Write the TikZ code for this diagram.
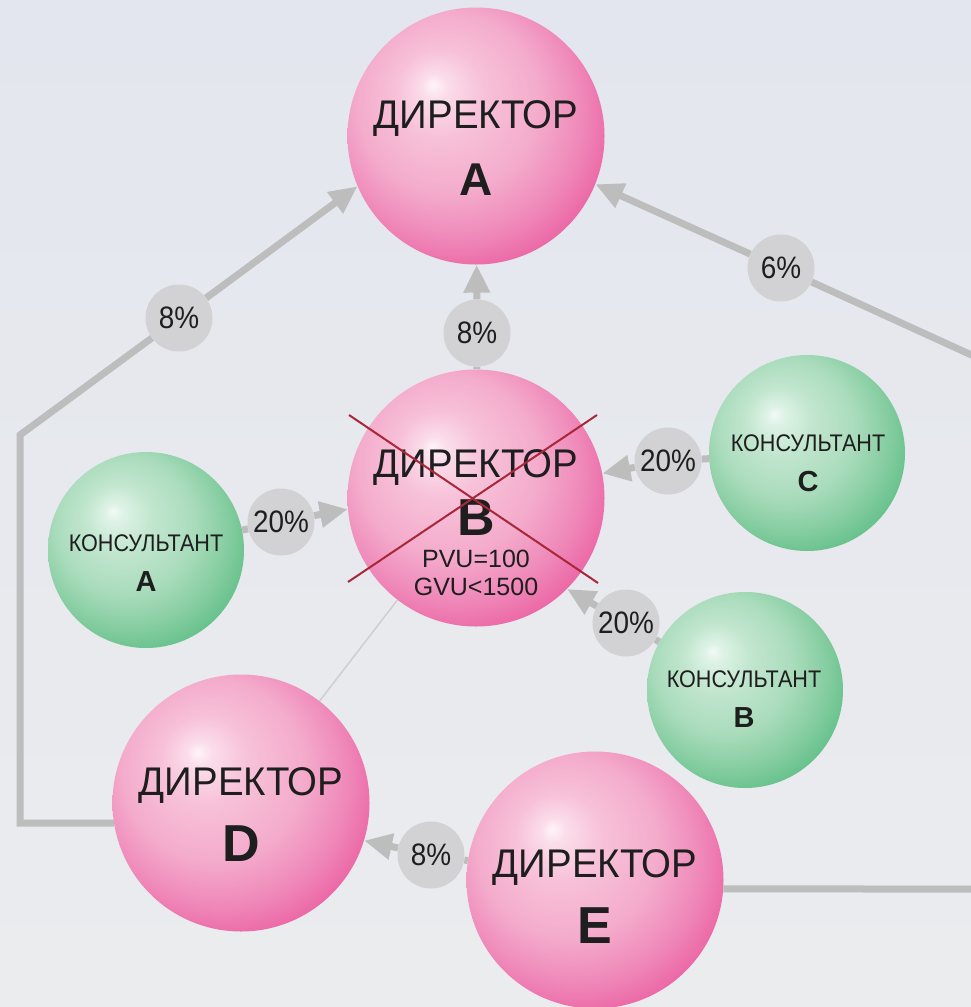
\documentclass[tikz,border=0pt]{standalone}
\usepackage{fontspec}
\setmainfont{Liberation Sans}
\usetikzlibrary{arrows.meta,calc}
\definecolor{pk0}{HTML}{FEF4F8}
\definecolor{pk1}{HTML}{FBDDEA}
\definecolor{pk2}{HTML}{F7C1D9}
\definecolor{pk3}{HTML}{F4ACCC}
\definecolor{pk4}{HTML}{EF88B9}
\definecolor{pk5}{HTML}{EB63A3}
\definecolor{gn0}{HTML}{F2FAF5}
\definecolor{gn1}{HTML}{DDF2E5}
\definecolor{gn2}{HTML}{C2E6CF}
\definecolor{gn3}{HTML}{AADCBC}
\definecolor{gn4}{HTML}{86CDA1}
\definecolor{gn5}{HTML}{62C088}
\definecolor{lnC}{HTML}{BDBDBD}
\definecolor{lbC}{HTML}{D2D2D4}
\definecolor{txC}{HTML}{1E1E1E}
\definecolor{xC}{HTML}{A8283A}
\definecolor{thinC}{HTML}{CFCFD2}
\definecolor{bgT}{HTML}{E3E6EE}
\definecolor{bgM}{HTML}{F5F5F8}
\definecolor{bgB}{HTML}{EBECEE}
\pgfdeclareradialshading{pinkball}{\pgfpoint{-8.5bp}{10bp}}{color(0bp)=(pk0); color(2.5bp)=(pk1); color(8.5bp)=(pk2); color(17.5bp)=(pk3); color(25bp)=(pk4); color(31bp)=(pk5); color(50bp)=(pk5)}
\pgfdeclareradialshading{greenball}{\pgfpoint{-8.5bp}{10bp}}{color(0bp)=(gn0); color(2.5bp)=(gn1); color(8.5bp)=(gn2); color(17.5bp)=(gn3); color(25bp)=(gn4); color(31bp)=(gn5); color(50bp)=(gn5)}
\newcommand{\cndx}[1]{\scalebox{0.9}[1]{#1}}
\newcommand{\cndd}[1]{\scalebox{0.96}[1]{#1}}
\tikzset{
  dirS/.style={circle, inner sep=0pt, minimum size=257pt, shade, shading=pinkball},
  conS/.style={circle, inner sep=0pt, minimum size=196pt, shade, shading=greenball},
  labS/.style={circle, inner sep=0pt, minimum size=67pt, fill=lbC, text=txC, font=\fontsize{31}{34}\selectfont},
  labI/.style={circle, inner sep=0pt, minimum size=67pt},
  dtxt/.style={anchor=base, inner sep=0pt, text=txC, font=\fontsize{40}{44}\selectfont},
  dlet/.style={anchor=base, inner sep=0pt, text=txC, font=\fontsize{52}{56}\selectfont\bfseries},
  pvtxt/.style={anchor=base, inner sep=0pt, text=txC, font=\fontsize{25}{28}\selectfont},
  ctxt/.style={anchor=base, inner sep=0pt, text=txC, font=\fontsize{24}{26}\selectfont},
  clet/.style={anchor=base, inner sep=0pt, text=txC, font=\fontsize{29}{32}\selectfont\bfseries},
  conn/.style={draw=lnC, line width=7pt},
  tipconn/.style={conn, -{Triangle[length=28pt,width=25pt]}},
  crossln/.style={draw=xC, line width=2pt},
  thinln/.style={draw=thinC, line width=1.5pt}
}
\begin{document}
\begin{tikzpicture}[x=1pt,y=-1pt]
\useasboundingbox (0,0) rectangle (971,1007);
\clip (0,0) rectangle (971,1007);
\shade[top color=bgT, middle color=bgM, bottom color=bgB] (0,0) rectangle (971,1007);

% spheres
\node[dirS] (dA) at (476,136) {};
\node[dirS] (dB) at (476,498) {};
\node[dirS] (dD) at (241,803) {};
\node[dirS] (dE) at (595,880) {};
\node[conS] (cA) at (146,550) {};
\node[conS] (cC) at (807,453) {};
\node[conS] (cB) at (745,690) {};

% label shapes (connector ends)
\node[labI] (lBA) at (477,333) {};
\node[labI] (lDA) at (179,318) {};
\node[labI] (lEA) at (781,268) {};
\node[labI] (lcA) at (281,522) {};
\node[labI] (lcC) at (668,461) {};
\node[labI] (lcB) at (626,623) {};
\node[labI] (lED) at (431,855) {};

\coordinate (lc1) at (20,823);
\coordinate (lc2) at (20,435);
\coordinate (rc1) at (1000,889);
\coordinate (rc2) at (1000,368);

% connectors
\draw[thinln] (dD) -- (dB);
\draw[conn] (dB) -- (lBA);
\draw[tipconn] (lBA) -- (dA);
\draw[conn] (dD.189) -- (lc1) -- (lc2) -- (lDA);
\draw[tipconn] (lDA) -- (dA.203);
\draw[conn] (dE.-4) -- (rc1) -- (rc2) -- (lEA);
\draw[tipconn] (lEA) -- (dA.-22);
\draw[conn] (cA) -- (lcA);
\draw[tipconn] (lcA) -- (dB.185);
\draw[conn] (cC) -- (lcC);
\draw[tipconn] (lcC) -- (dB.11);
\draw[conn] (cB) -- (lcB);
\draw[tipconn] (lcB) -- (dB.-45);
\draw[conn] (dE) -- (lED);
\draw[tipconn] (lED) -- (dD.-17);

% visible labels
\node[labS] (vBA) at (lBA) {\cndx{8\%}};
\node[labS] (vDA) at (lDA) {\cndx{8\%}};
\node[labS] (vEA) at (lEA) {\cndx{6\%}};
\node[labS] (vcA) at (lcA) {\cndx{20\%}};
\node[labS] (vcC) at (lcC) {\cndx{20\%}};
\node[labS] (vcB) at (lcB) {\cndx{20\%}};
\node[labS] (vED) at (lED) {\cndx{8\%}};

% texts
\node[dtxt] (tA1) at (476,128) {\cndd{ДИРЕКТОР}};
\node[dlet, font=\fontsize{46}{50}\selectfont\bfseries] (tA2) at (476,195) {A};
\node[dtxt] (tB1) at (476,477) {\cndd{ДИРЕКТОР}};
\node[dlet] (tB2) at (476,535) {B};
\node[pvtxt] (tB3) at (476,567) {PVU=100};
\node[pvtxt] (tB4) at (476,595) {GVU<1500};
\node[dtxt] (tD1) at (241,795) {\cndd{ДИРЕКТОР}};
\node[dlet] (tD2) at (241,861) {D};
\node[dtxt] (tE1) at (595,877) {\cndd{ДИРЕКТОР}};
\node[dlet] (tE2) at (595,943) {E};
\node[ctxt] (tcA1) at (146,551) {\cndx{КОНСУЛЬТАНТ}};
\node[clet] (tcA2) at (146,591) {A};
\node[ctxt] (tcC1) at (808,451) {\cndx{КОНСУЛЬТАНТ}};
\node[clet] (tcC2) at (808,491) {C};
\node[ctxt] (tcB1) at (744,687) {\cndx{КОНСУЛЬТАНТ}};
\node[clet] (tcB2) at (744,727) {B};

% cross over director B
\draw[crossln] ($(dB)+(-127,-83)$) -- ($(dB)+(122,85)$);
\draw[crossln] ($(dB)+(121,-83)$) -- ($(dB)+(-128,84)$);
\end{tikzpicture}
\end{document}
